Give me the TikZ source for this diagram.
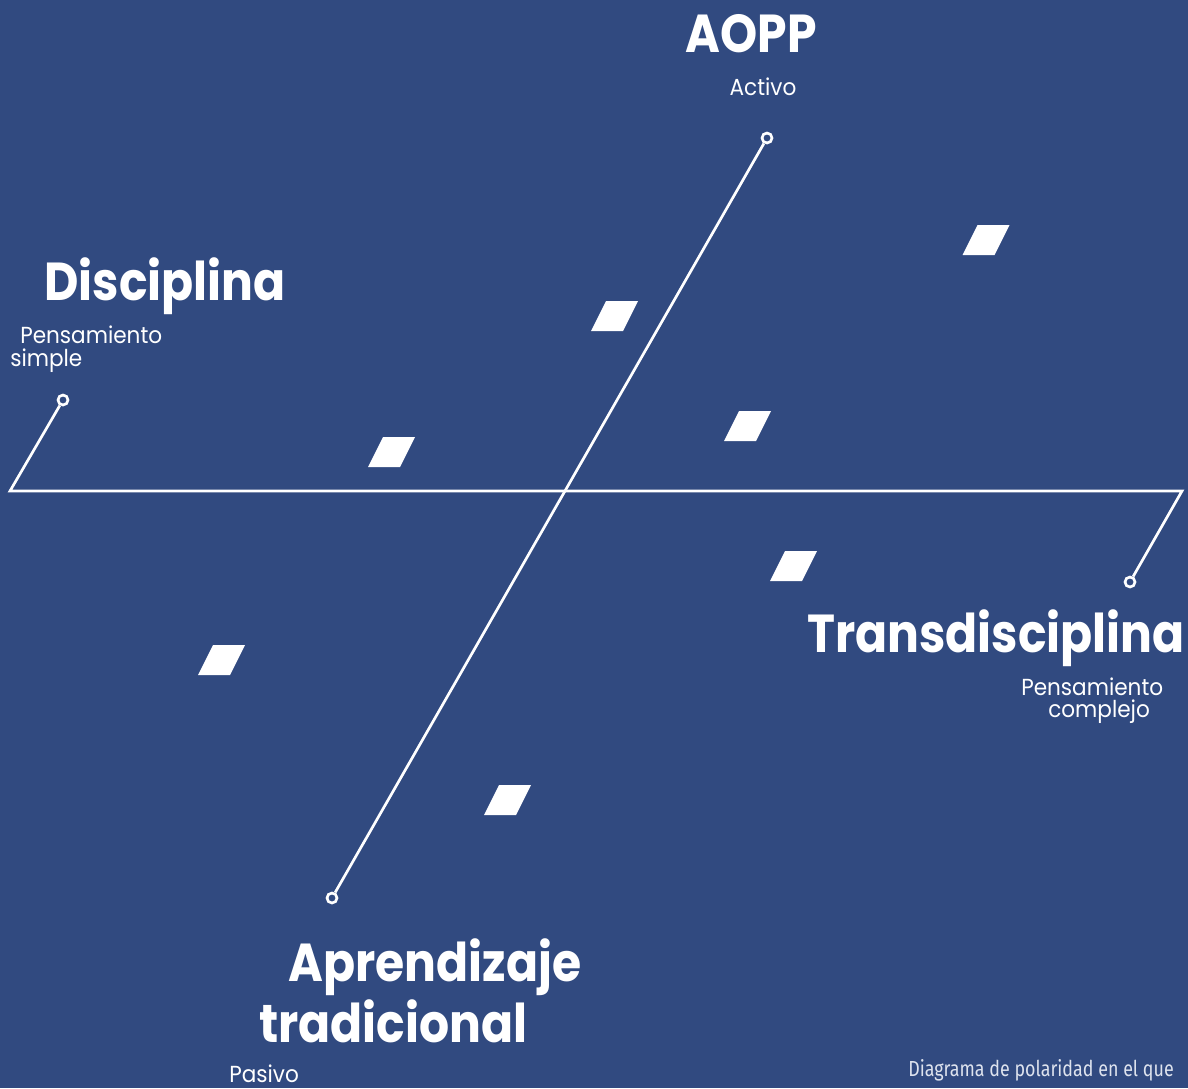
\documentclass[tikz,border=0pt]{standalone}
\usepackage{fontspec}
\setmainfont{Poppins}[FakeStretch=0.93]
\newfontfamily\titulofont{Poppins}[FakeStretch=0.885]
\newfontfamily\notafont{Fira Sans}[FakeStretch=0.82]
\definecolor{fondo}{RGB}{49,74,128}
\definecolor{nota}{RGB}{222,227,238}
\tikzset{
  titulo/.style={text=white, inner sep=0pt, font=\titulofont\fontsize{38}{40}\selectfont\bfseries},
  subtitulo/.style={text=white, inner sep=0pt, font=\fontsize{16.5}{20}\selectfont},
  eje/.style={draw=white, line width=1.9pt},
  punto/.style={circle, draw=white, fill=fondo, line width=1.9pt, inner sep=0pt, minimum size=0.25cm},
  rombo/.style={fill=white}
}
\begin{document}
\begin{tikzpicture}[x=0.025cm, y=-0.025cm]
    \fill[fondo] (0,0) rectangle (1188,1088);
    \useasboundingbox (0,0) rectangle (1188,1088);

    \coordinate (EjeIzq) at (10,491);
    \coordinate (EjeDer) at (1182,491);
    \node (PuntoAOPP) [punto] at (767,138) {};
    \node (PuntoDisciplina) [punto] at (63,400) {};
    \node (PuntoTrans) [punto] at (1130,582) {};
    \node (PuntoAprendizaje) [punto] at (332,898) {};

    \draw[eje] (PuntoDisciplina) -- (EjeIzq) -- (EjeDer) -- (PuntoTrans);
    \draw[eje] (PuntoAOPP) -- (PuntoAprendizaje);

    \foreach \x/\y in {986/240, 614.5/316, 747.5/426, 391.5/452, 793.5/566, 221.5/660, 507.5/800}
        \fill[rombo] (\x-23.5,\y+15) -- ++(32,0) -- ++(15,-30) -- ++(-32,0) -- cycle;

    \node (AOPP) [titulo, anchor=base] at (751,52) {AOPP};
    \node (Activo) [subtitulo, anchor=base] at (763,95) {Activo};
    \node (Disciplina) [titulo, anchor=base west] at (44,300) {Disciplina};
    \node (PensamientoS) [subtitulo, anchor=base west] at (20,343) {Pensamiento};
    \node (Simple) [subtitulo, anchor=base west] at (10,366) {simple};
    \node (Transdisciplina) [titulo, anchor=base east] at (1185,652) {Transdisciplina};
    \node (PensamientoC) [subtitulo, anchor=base west] at (1021,695) {Pensamiento};
    \node (Complejo) [subtitulo, anchor=base west] at (1048,717) {complejo};
    \node (Aprendizaje) [titulo, anchor=base west] at (288,981) {Aprendizaje};
    \node (Tradicional) [titulo, anchor=base west] at (259,1042) {tradicional};
    \node (Pasivo) [subtitulo, anchor=base west] at (229,1082) {Pasivo};
    \node (Nota) [text=nota, inner sep=0pt, anchor=base west, font=\notafont\fontsize{15.5}{18}\selectfont] at (908,1076) {Diagrama de polaridad en el que};
\end{tikzpicture}
\end{document}
